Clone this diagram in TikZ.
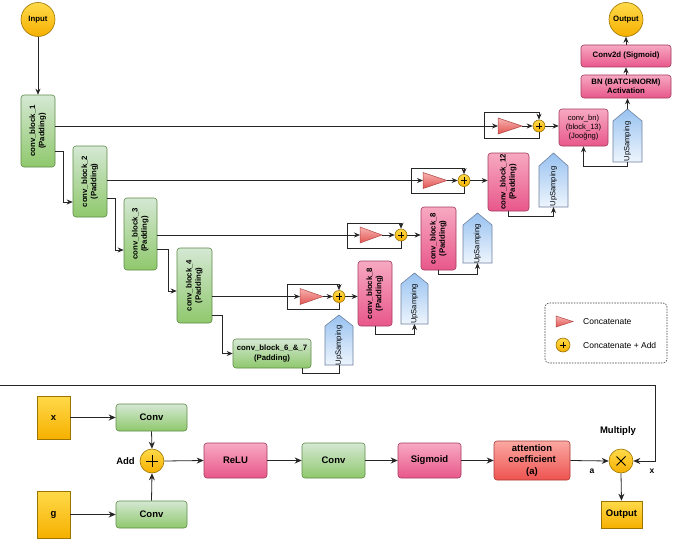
\documentclass[tikz,border=0pt]{standalone}
\usepackage{fontspec}
\setmainfont{Liberation Sans}
\usepackage{graphicx}
\usetikzlibrary{arrows.meta,calc}
\definecolor{gtop}{HTML}{D5E8D4}
\definecolor{gbot}{HTML}{8FC86C}
\definecolor{gbor}{HTML}{5E8C47}
\definecolor{ptop}{HTML}{F7A9C2}
\definecolor{pbot}{HTML}{E8578A}
\definecolor{pbor}{HTML}{A33A5E}
\definecolor{rtop}{HTML}{FBA8A2}
\definecolor{rbot}{HTML}{EE5350}
\definecolor{rbor}{HTML}{A83A36}
\definecolor{ytop}{HTML}{FFDA4A}
\definecolor{ybot}{HTML}{F6B000}
\definecolor{ybor}{HTML}{9C7400}
\definecolor{utop}{HTML}{98C2F0}
\definecolor{ubot}{HTML}{EEF5FD}
\definecolor{ubor}{HTML}{6F819F}
\definecolor{ttop}{HTML}{F7B3B0}
\definecolor{tbot}{HTML}{E25452}
\definecolor{tbor}{HTML}{B04A48}
\newcommand\vt[2]{\rotatebox{90}{\begin{tabular}{@{}c@{}}#1\\#2\end{tabular}}}
\tikzset{
  conn/.style={draw=black!85, line width=0.75pt},
  arr/.style={conn, -{Stealth[length=6pt,width=5pt]}},
  barr/.style={conn, line width=0.8pt, -{Stealth[length=7pt,width=6pt]}},
  tfont/.style={font=\bfseries\fontsize{7.8}{9.2}\selectfont},
  bfont/.style={font=\bfseries\fontsize{9.5}{11.5}\selectfont},
  rbox/.style={rounded corners=3pt, line width=0.6pt, inner sep=0pt, align=center},
  gbox/.style={rbox, draw=gbor, top color=gtop, bottom color=gbot},
  pbox/.style={rbox, draw=pbor, top color=ptop, bottom color=pbot},
  redbox/.style={rbox, draw=rbor, top color=rtop, bottom color=rbot},
  ybox/.style={line width=0.6pt, inner sep=0pt, align=center, draw=ybor, top color=ytop, bottom color=ybot},
  ycirc/.style={circle, line width=0.6pt, inner sep=0pt, draw=ybor, top color=ytop, bottom color=ybot},
  plusc/.style={ycirc, minimum size=12pt, path picture={
     \draw[line width=0.6pt,black] ([xshift=-3.2pt]path picture bounding box.center) -- ([xshift=3.2pt]path picture bounding box.center);
     \draw[line width=0.6pt,black] ([yshift=-3.2pt]path picture bounding box.center) -- ([yshift=3.2pt]path picture bounding box.center);}},
  bigplus/.style={ycirc, minimum size=24pt, path picture={
     \draw[line width=0.9pt,black] ([xshift=-6pt]path picture bounding box.center) -- ([xshift=6pt]path picture bounding box.center);
     \draw[line width=0.9pt,black] ([yshift=-6pt]path picture bounding box.center) -- ([yshift=6pt]path picture bounding box.center);}},
  bigtimes/.style={ycirc, minimum size=24pt, path picture={
     \draw[line width=0.9pt,black] ([shift={(-4.5pt,-4.5pt)}]path picture bounding box.center) -- ([shift={(4.5pt,4.5pt)}]path picture bounding box.center);
     \draw[line width=0.9pt,black] ([shift={(-4.5pt,4.5pt)}]path picture bounding box.center) -- ([shift={(4.5pt,-4.5pt)}]path picture bounding box.center);}},
  tri/.style={draw=tbor, line width=0.5pt, top color=ttop, bottom color=tbot},
  upsty/.style={draw=ubor, line width=0.6pt, top color=utop, bottom color=ubot},
  uptext/.style={font=\fontsize{7.6}{9}\selectfont, inner sep=0pt},
  lfont/.style={font=\fontsize{8.5}{10}\selectfont, inner sep=0pt},
}
\newcommand\concatunit[8]{%
  \coordinate (#1j) at (#2,#5);
  \coordinate (#1tl) at (#6,#5);
  \coordinate (#1tr) at (#7,#5);
  \path[tri] (#6,{#5-8}) -- (#7,#5) -- (#6,{#5+8}) -- cycle;
  \node[plusc] (#1p) at (#8,#5) {};
  \draw[conn] (#2,#3) -- (#2,#4);
  \draw[arr] (#2,#3) -| (#1p.north);
  \draw[conn] (#2,#4) -| (#1p.south);
  \draw[arr] (#1j) -- (#1tl);
  \draw[arr] (#1tr) -- (#1p.west);
}
\newcommand\upsamp[6]{%
  \path[upsty] (#2,#6) -- (#2,#5) -- ({(#2+#3)/2},#4) -- (#3,#5) -- (#3,#6) -- cycle;
  \node[uptext] (#1) at ({(#2+#3)/2},{(#5+#6)/2}) {\rotatebox{90}{UpSamping}};
  \coordinate (#1b) at ({(#2+#3)/2},#6);
  \coordinate (#1t) at ({(#2+#3)/2},#4);
}
\begin{document}
\begin{tikzpicture}[x=1pt,y=-1pt]
\useasboundingbox[fill=white] (0,0) rectangle (680,551);

% ---------- encoder ----------
\node[ycirc, minimum size=34pt, tfont] (in) at (38,19.5) {Input};
\node[gbox, tfont, minimum width=34pt, minimum height=72pt] (cb1) at (38,131) {\vt{conv\_block\_1}{(Padding)}};
\node[gbox, tfont, minimum width=34pt, minimum height=71pt] (cb2) at (90,181.5) {\vt{conv\_block\_2}{(Padding)}};
\node[gbox, tfont, minimum width=33pt, minimum height=72pt] (cb3) at (140.5,234) {\vt{conv\_block\_3}{(Padding)}};
\node[gbox, tfont, minimum width=35pt, minimum height=75pt] (cb4) at (194.5,285.5) {\vt{conv\_block\_4}{(Padding)}};
\node[gbox, tfont, minimum width=78pt, minimum height=29pt] (cb67) at (272,353.5) {conv\_block\_6\_\&\_7\\(Padding)};

\draw[arr] (in.south) -- (cb1.north);
\draw[arr] (cb1.east |- 0,151) -- (63,151) |- (cb2.west |- 0,202);
\draw[arr] (cb2.east |- 0,198) -- (115,198) |- (cb3.west |- 0,250);
\draw[arr] (cb3.east |- 0,249) -- (168,249) |- (cb4.west |- 0,291);
\draw[arr] (cb4.east |- 0,315) -- (222,315) |- (cb67.west);

% ---------- decoder ----------
\node[pbox, font=\fontsize{7.6}{9}\selectfont, minimum width=49pt, minimum height=37pt] (cbbn) at (583.5,127.5) {conv\_bn)\\(block\_13)\\(Jooğng)};
\node[pbox, tfont, minimum width=41pt, minimum height=58pt] (cb12) at (508.5,182) {\vt{conv\_block\_12}{(Padding)}};
\node[pbox, tfont, minimum width=35pt, minimum height=63pt] (cb8a) at (438.5,238.5) {\vt{conv\_block\_8}{(Padding)}};
\node[pbox, tfont, minimum width=34pt, minimum height=65pt] (cb8b) at (375,293.5) {\vt{conv\_block\_8}{(Padding)}};
\node[pbox, tfont, minimum width=90pt, minimum height=23pt] (bn) at (626,86.5) {BN (BATCHNORM)\\Activation};
\node[pbox, tfont, minimum width=90pt, minimum height=22pt] (c2d) at (626,56) {Conv2d (Sigmoid)};
\node[ycirc, minimum size=34pt, tfont] (out) at (626,19.5) {Output};

\upsamp{up1}{613}{642}{109}{121}{162}
\upsamp{up2}{539}{568}{153}{166}{207}
\upsamp{up3}{463}{492}{213}{225}{263}
\upsamp{up4}{401}{428}{273}{284}{324}
\upsamp{up5}{325}{353}{315}{326}{365}

\concatunit{c1}{484}{112}{138}{126}{498}{522}{539}
\concatunit{c2}{411}{168}{193}{180.5}{423}{447}{464}
\concatunit{c3}{347}{223}{248}{235}{360}{382}{401}
\concatunit{c4}{287}{284}{309}{296.5}{300}{323}{339}

\draw[conn] (cb1.east |- c1j) -- (c1j);
\draw[conn] (cb2.east |- c2j) -- (c2j);
\draw[conn] (cb3.east |- c3j) -- (c3j);
\draw[conn] (cb4.east |- c4j) -- (c4j);

\draw[arr] (c1p.east) -- (cbbn.west |- c1p);
\draw[arr] (c2p.east) -- (cb12.west |- c2p);
\draw[arr] (c3p.east) -- (cb8a.west |- c3p);
\draw[arr] (c4p.east) -- (cb8b.west |- c4p);

\draw[arr] (cb12.south) -- ++(0,5) -| (up2b);
\draw[arr] (cb8a.south) -- ++(0,4) -| (up3b);
\draw[arr] (cb8b.south) -- ++(0,8) -| (up4b);
\draw[conn] ($(cb67.south east)+(-9,0)$) -- ++(0,5) -| (up5b);
\draw[arr] (up1b) -- ++(0,4) -| (cbbn.south);
\draw[arr] (up1t) -- (up1t |- bn.south);
\draw[arr] (bn.north) -- (c2d.south);
\draw[arr] (c2d.north) -- (out.south);

% ---------- legend ----------
\draw[draw=black!75, line width=0.6pt, rounded corners=4pt, dash pattern=on 1.5pt off 1.2pt] (545,303) rectangle (667,363);
\path[tri] (556,316) -- (573,321.5) -- (556,327) -- cycle;
\coordinate (lgt) at (564,321.5);
\node[plusc, minimum size=14pt] (lgp) at (563,345) {};
\node[lfont, anchor=west] (lg1) at (583,321.5) {Concatenate};
\node[lfont, anchor=west] (lg2) at (583,345) {Concatenate + Add};

% ---------- attention gate ----------
\coordinate (sepL) at (0,385);
\coordinate (sepR) at (655,461);
\node[ybox, bfont, minimum width=33pt, minimum height=43pt] (xb) at (53.5,417.5) {x};
\node[ybox, bfont, minimum width=33pt, minimum height=47pt] (gb) at (53.5,514.5) {g};
\node[gbox, bfont, minimum width=71pt, minimum height=27pt] (convT) at (151.5,417.5) {Conv};
\node[gbox, bfont, minimum width=71pt, minimum height=27pt] (convB) at (151.5,514.5) {Conv};
\node[bigplus] (add) at (152,461) {};
\node[bfont, anchor=east, inner sep=0pt] (addl) at (135,461) {Add};
\node[pbox, bfont, minimum width=63pt, minimum height=35pt] (relu) at (235.5,460.5) {ReLU};
\node[gbox, bfont, minimum width=63pt, minimum height=35pt] (convM) at (333.5,460.5) {Conv};
\node[pbox, bfont, minimum width=63pt, minimum height=35pt] (sigm) at (429.5,460.5) {Sigmoid};
\node[redbox, bfont, minimum width=76pt, minimum height=39pt] (att) at (532,460.5) {attention\\coefficient\\(a)};
\node[bigtimes] (mult) at (621,461) {};
\node[bfont] (mull) at (618,431) {Multiply};
\node[bfont, font=\bfseries\fontsize{8.5}{10}\selectfont] (al) at (592,471) {a};
\node[bfont, font=\bfseries\fontsize{8.5}{10}\selectfont] (xl) at (652,471) {x};
\node[ybox, bfont, minimum width=41pt, minimum height=27pt] (outb) at (621.5,514.5) {Output};

\draw[barr] (sepL) -| (sepR) -- (mult.east);
\draw[barr] (xb.east) -- (convT.west);
\draw[barr] (gb.east) -- (convB.west);
\draw[barr] (convT.south) -- (add.north);
\draw[barr] (convB.north) -- (add.south);
\draw[barr] (add.east) -- (relu.west);
\draw[barr] (relu.east) -- (convM.west);
\draw[barr] (convM.east) -- (sigm.west);
\draw[barr] (sigm.east) -- (att.west);
\draw[barr] (att.east) -- (mult.west);
\draw[barr] (mult.south) -- (outb.north);
\end{tikzpicture}
\end{document}
